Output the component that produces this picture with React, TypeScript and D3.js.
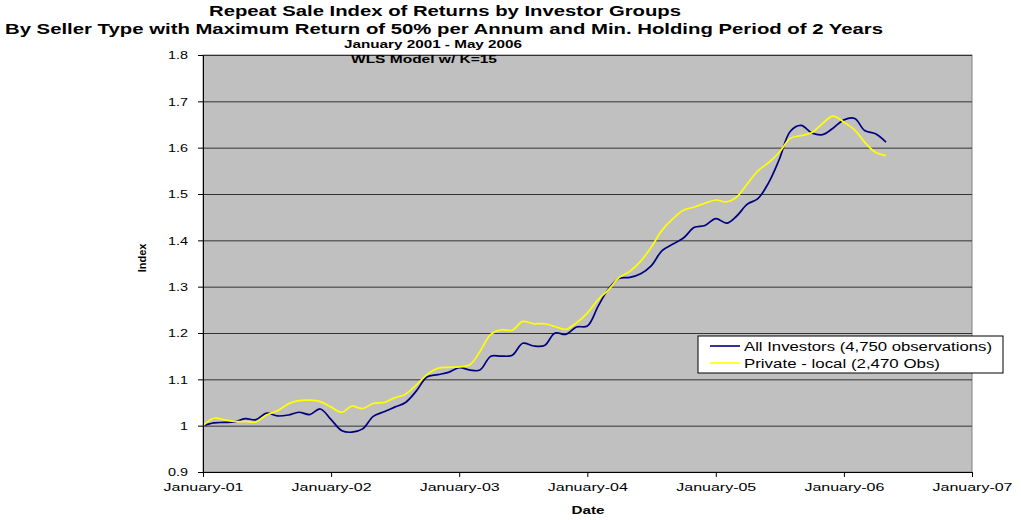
import { useRef, useEffect } from "react";
import * as d3 from "d3";

// monthly index values, January 2001 .. May 2006
const allInvestors = [
  1.0, 1.006, 1.007, 1.008, 1.015, 1.013, 1.027, 1.021, 1.023, 1.029, 1.024, 1.036,
  1.013, 0.989, 0.986, 0.993, 1.02, 1.03, 1.04, 1.05, 1.075, 1.105, 1.11, 1.115,
  1.125, 1.12, 1.12, 1.15, 1.15, 1.152, 1.178, 1.172, 1.173, 1.2, 1.197, 1.213,
  1.215, 1.258, 1.295, 1.318, 1.32, 1.328, 1.345, 1.378, 1.392, 1.405, 1.428, 1.432,
  1.447, 1.437, 1.452, 1.478, 1.49, 1.525, 1.575, 1.635, 1.648, 1.632, 1.628, 1.642,
  1.66, 1.663, 1.637, 1.63, 1.612,
];

const privateLocal = [
  1.0, 1.016, 1.013, 1.009, 1.009, 1.008, 1.023, 1.032, 1.047, 1.054, 1.055, 1.052,
  1.04, 1.029, 1.042, 1.037, 1.048, 1.05, 1.06, 1.068, 1.088, 1.11, 1.124, 1.126,
  1.127, 1.132, 1.16, 1.197, 1.207, 1.206, 1.225, 1.22, 1.22, 1.214, 1.208, 1.222,
  1.243, 1.272, 1.293, 1.32, 1.333, 1.355, 1.385, 1.422, 1.447, 1.465, 1.472, 1.48,
  1.487, 1.483, 1.493, 1.522, 1.55, 1.568, 1.59, 1.62, 1.626, 1.632, 1.652, 1.668,
  1.655, 1.638, 1.612, 1.59, 1.583,
];

const yTicks = [0.9, 1.0, 1.1, 1.2, 1.3, 1.4, 1.5, 1.6, 1.7, 1.8];
const yTickLabels = ["0.9", "1", "1.1", "1.2", "1.3", "1.4", "1.5", "1.6", "1.7", "1.8"];
const xTickYears = [2001, 2002, 2003, 2004, 2005, 2006, 2007];
const xTickLabels = [
  "January-01", "January-02", "January-03", "January-04",
  "January-05", "January-06", "January-07",
];
const seriesNames = ["All Investors (4,750 observations)", "Private - local (2,470 Obs)"];
const seriesColors = ["#000080", "#ffff00"];
const titleLines = [
  "Repeat Sale Index of Returns by Investor Groups",
  "By Seller Type with Maximum Return of 50% per Annum and Min. Holding Period of 2 Years",
  "January 2001 - May 2006",
  "WLS Model w/ K=15",
];

const FONT = "'Liberation Sans', Arial, sans-serif";

const App = () => {
  const svgRef = useRef();

  useEffect(() => {
    const width = 1021;
    const height = 520;
    const svg = d3.select(svgRef.current);
    svg.selectAll("*").remove();
    svg.attr("width", width).attr("height", height);

    const left = 203, right = 972, top = 55, bottom = 472;

    const months = allInvestors.map((_, i) => new Date(2001, i, 1));

    const x = d3
      .scaleTime()
      .domain([new Date(2001, 0, 1), new Date(2007, 0, 1)])
      .range([left, right]);
    const y = d3.scaleLinear().domain([0.9, 1.8]).range([bottom, top]);

    svg.append("rect").attr("width", width).attr("height", height).attr("fill", "#fff");

    // plot area
    svg
      .append("rect")
      .attr("x", left)
      .attr("y", top)
      .attr("width", right - left)
      .attr("height", bottom - top)
      .attr("fill", "#c0c0c0")
      .attr("stroke", "#808080");

    // gridlines
    const grid = svg
      .append("g")
      .attr("transform", `translate(${left},0)`)
      .call(d3.axisLeft(y).tickValues(yTicks.slice(1)).tickSize(-(right - left)).tickFormat(""));
    grid.select(".domain").remove();
    grid.selectAll("line").attr("stroke", "#333").attr("stroke-width", 1);

    // lines
    const series = [allInvestors, privateLocal];
    series.forEach((vals, si) => {
      const line = d3
        .line()
        .x((d, i) => x(months[i]))
        .y((d) => y(d))
        .curve(d3.curveCatmullRom);
      svg
        .append("path")
        .datum(vals)
        .attr("d", line)
        .attr("fill", "none")
        .attr("stroke", seriesColors[si])
        .attr("stroke-width", 1.7);
    });

    // y axis
    const yAxis = svg
      .append("g")
      .attr("transform", `translate(${left},0)`)
      .call(
        d3
          .axisLeft(y)
          .tickValues(yTicks)
          .tickSize(5)
          .tickSizeOuter(0)
          .tickPadding(10)
          .tickFormat((d, i) => yTickLabels[i])
      );
    yAxis.select(".domain").attr("stroke", "#000");
    yAxis.selectAll("line").attr("stroke", "#000");
    yAxis
      .selectAll("text")
      .attr("font-family", FONT)
      .attr("font-size", 11.5)
      .attr("fill", "#000")
      .attr("textLength", (d, i) => (yTickLabels[i].length === 1 ? 8 : 20))
      .attr("lengthAdjust", "spacingAndGlyphs");

    // x axis
    const xAxis = svg
      .append("g")
      .attr("transform", `translate(0,${bottom})`)
      .call(
        d3
          .axisBottom(x)
          .tickValues(xTickYears.map((yr) => new Date(yr, 0, 1)))
          .tickSize(5)
          .tickSizeOuter(0)
          .tickPadding(6)
          .tickFormat((d, i) => xTickLabels[i])
      );
    xAxis.select(".domain").attr("stroke", "#000");
    xAxis.selectAll("line").attr("stroke", "#000");
    xAxis
      .selectAll("text")
      .attr("font-family", FONT)
      .attr("font-size", 11.5)
      .attr("fill", "#000")
      .attr("textLength", 80)
      .attr("lengthAdjust", "spacingAndGlyphs");

    // titles
    const titleSpec = [
      { cx: 445, by: 16, size: 15, len: 472 },
      { cx: 444, by: 34, size: 15, len: 878 },
      { cx: 433, by: 48, size: 11.5, len: 178 },
      { cx: 424, by: 63, size: 11.5, len: 146 },
    ];
    titleLines.forEach((t, i) => {
      const s = titleSpec[i];
      svg
        .append("text")
        .attr("x", s.cx)
        .attr("y", s.by)
        .attr("text-anchor", "middle")
        .attr("font-family", FONT)
        .attr("font-weight", "bold")
        .attr("font-size", s.size)
        .attr("textLength", s.len)
        .attr("lengthAdjust", "spacingAndGlyphs")
        .text(t);
    });

    // axis titles
    svg
      .append("text")
      .attr("x", 588)
      .attr("y", 514)
      .attr("text-anchor", "middle")
      .attr("font-family", FONT)
      .attr("font-weight", "bold")
      .attr("font-size", 11)
      .attr("textLength", 33)
      .attr("lengthAdjust", "spacingAndGlyphs")
      .text("Date");
    svg
      .append("text")
      .attr("transform", "translate(146,258) rotate(-90)")
      .attr("text-anchor", "middle")
      .attr("font-family", FONT)
      .attr("font-weight", "bold")
      .attr("font-size", 11)
      .text("Index");

    // legend
    const legend = svg.append("g").attr("transform", "translate(698,336)");
    legend
      .append("rect")
      .attr("width", 305)
      .attr("height", 37)
      .attr("fill", "#fff")
      .attr("stroke", "#000");
    seriesNames.forEach((name, i) => {
      const ly = 10 + i * 17;
      legend
        .append("line")
        .attr("x1", 12)
        .attr("x2", 42)
        .attr("y1", ly)
        .attr("y2", ly)
        .attr("stroke", seriesColors[i])
        .attr("stroke-width", 1.6);
      legend
        .append("text")
        .attr("x", 46)
        .attr("y", ly + 4.5)
        .attr("font-family", FONT)
        .attr("font-size", 12.5)
        .attr("textLength", i === 0 ? 248 : 196)
        .attr("lengthAdjust", "spacingAndGlyphs")
        .text(name);
    });
  }, []);

  return (
    <svg
      ref={svgRef}
      style={{ position: "absolute", left: 0, top: 0, display: "block" }}
    ></svg>
  );
};

export default App;
